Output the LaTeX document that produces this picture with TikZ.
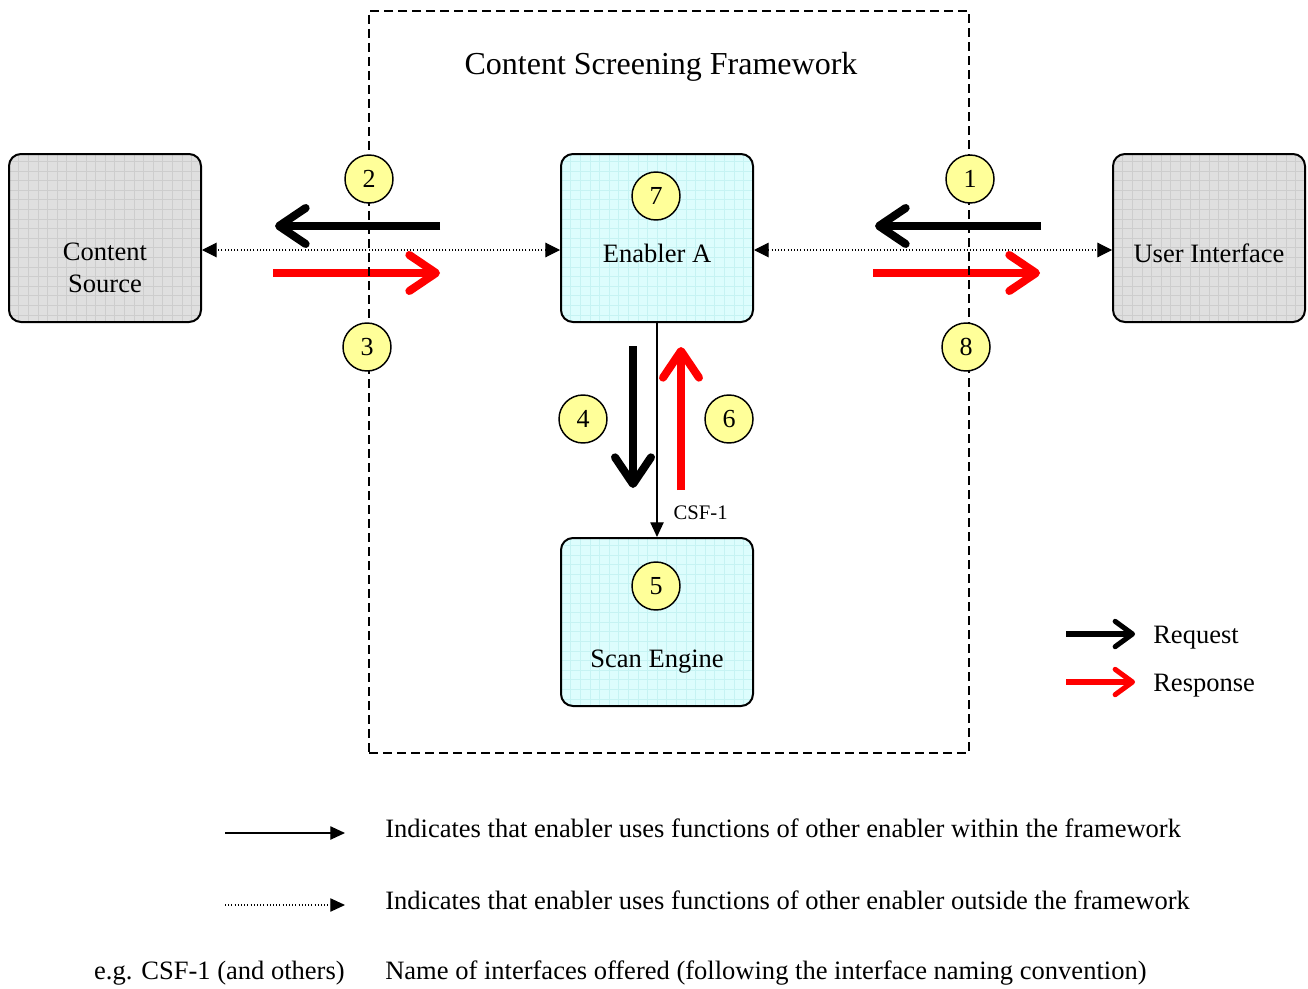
\documentclass[tikz,border=0pt]{standalone}
\usepackage{fontspec}
\setmainfont{Liberation Serif}
\usetikzlibrary{arrows.meta}

\definecolor{boxgray}{HTML}{DFDFDF}
\definecolor{gridgray}{HTML}{CDCDCD}
\definecolor{boxcyan}{HTML}{DDFDFD}
\definecolor{gridcyan}{HTML}{C6F3F3}
\definecolor{tagyellow}{HTML}{FFFF99}
\definecolor{resp}{HTML}{FF0000}

\tikzset{
  block/.style={draw, line width=1.5pt, rounded corners=9pt,
    minimum width=144pt, minimum height=126pt, inner sep=0pt},
  gridfill/.style 2 args={fill=#1, path picture={
      \draw[#2, line width=0.3pt, step=7.2pt]
        (path picture bounding box.south west) grid
        (path picture bounding box.north east);}},
  outer/.style={block, gridfill={boxgray}{gridgray}},
  inner/.style={block, gridfill={boxcyan}{gridcyan}},
  txt/.style={font=\fontsize{19.9}{23.5}\selectfont, inner sep=0pt, align=center},
  tag/.style={circle, draw, line width=1.1pt, fill=tagyellow, minimum size=36pt,
    inner sep=0pt, font=\fontsize{19.5}{22}\selectfont},
  frame/.style={draw, line width=1.5pt, dash pattern=on 6.5pt off 4pt,
    minimum width=450pt, minimum height=556.5pt, inner sep=0pt},
  flow/.style={line width=6pt, -{Straight Barb[round, length=20pt, width=27pt]}},
  keyflow/.style={line width=3.8pt, -{Straight Barb[round, length=13pt, width=19pt]}},
  uses/.style={line width=0.9pt, -{Triangle[length=11pt, width=10pt]}},
  usesout/.style={line width=0.8pt, dash pattern=on 0.8pt off 1.6pt,
    {Triangle[length=11pt, width=11pt]}-{Triangle[length=11pt, width=11pt]}},
  usesoutkey/.style={line width=0.8pt, dash pattern=on 0.8pt off 1.6pt,
    -{Triangle[length=11pt, width=10pt]}},
}

\begin{document}
\begin{tikzpicture}[x=0.75pt, y=-0.75pt]
  \useasboundingbox (0,0) rectangle (1308,988);

  % enablers and external parties
  \node[outer] (src) at (105,238) {};
  \node[txt] (srcT) at (105,268) {Content\\Source};
  \node[inner] (ena) at (657,238) {};
  \node[txt] (enaT) at (657,253) {Enabler A};
  \node[inner] (scan) at (657,622) {};
  \node[txt] (scanT) at (657,662) {Scan Engine};
  \node[outer] (ui) at (1209,238) {};
  \node[txt] (uiT) at (1209,253) {User Interface};

  % interfaces
  \coordinate (ylink) at (0,250);
  \draw[usesout] (ena.west |- ylink) -- (src.east |- ylink);
  \draw[usesout] (ena.east |- ylink) -- (ui.west |- ylink);
  \draw[uses] (ena.south) -- (scan.north)
    node[pos=0.885, right=12pt, inner sep=0pt, font=\fontsize{15.5}{18}\selectfont] (csf) {CSF-1};

  % request / response flows
  \draw[flow] (440,226) -- (275,226);
  \draw[flow, resp] (273,273) -- (440,273);
  \draw[flow] (1041,226) -- (875,226);
  \draw[flow, resp] (873,273) -- (1040,273);
  \draw[flow] (633,346) -- (633,488);
  \draw[flow, resp] (681,490) -- (681,347);

  % framework boundary
  \node[frame] (csfw) at (669,382) {};
  \node[inner sep=0pt, font=\fontsize{24}{28}\selectfont] (title) at (661,67) {Content Screening Framework};

  % step numbers
  \node[tag] (s1) at (970,179) {1};
  \node[tag] (s2) at (369,179) {2};
  \node[tag] (s3) at (367,347) {3};
  \node[tag] (s4) at (583,419) {4};
  \node[tag] (s5) at (656,586) {5};
  \node[tag] (s6) at (729,419) {6};
  \node[tag] (s7) at (656,196) {7};
  \node[tag] (s8) at (966,347) {8};

  % flow key
  \coordinate (rqa) at (1066,634);
  \coordinate (rqb) at (1135,634);
  \coordinate (rsa) at (1066,682);
  \coordinate (rsb) at (1135,682);
  \draw[keyflow] (rqa) -- (rqb);
  \draw[keyflow, resp] (rsa) -- (rsb);
  \node[txt, anchor=west] (rqT) at (1153,638) {Request};
  \node[txt, anchor=west] (rsT) at (1153,686) {Response};

  % interface key
  \coordinate (ka) at (225,833);
  \coordinate (kb) at (345,833);
  \coordinate (kc) at (225,905);
  \coordinate (kd) at (345,905);
  \draw[uses] (ka) -- (kb);
  \draw[usesoutkey] (kc) -- (kd);
  \node[txt, anchor=west] (k1) at (385,828) {Indicates that enabler uses functions of other enabler within the framework};
  \node[txt, anchor=west] (k2) at (385,900) {Indicates that enabler uses functions of other enabler outside the framework};
  \node[txt, anchor=east] (k3l) at (345,973) {e.g. CSF-1 (and others)};
  \node[txt, anchor=west] (k3) at (385,973) {Name of interfaces offered (following the interface naming convention)};
\end{tikzpicture}
\end{document}
